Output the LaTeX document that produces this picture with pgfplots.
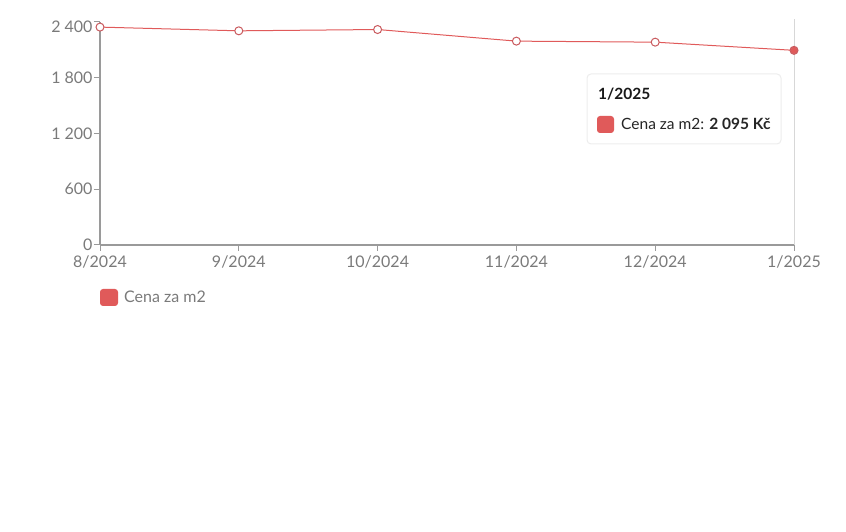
\documentclass[border=0pt]{standalone}
\usepackage{pgfplots}
\pgfplotsset{compat=1.18}
\usepackage{fontspec}
\setmainfont{Lato}
\definecolor{linered}{HTML}{E05A5A}
\definecolor{markred}{HTML}{C95A5E}
\definecolor{axisgray}{HTML}{9A9A9A}
\definecolor{textgray}{HTML}{7A7A7A}
\definecolor{boxgray}{HTML}{EDEDED}
\begin{document}
\begin{tikzpicture}[x=1pt,y=1pt]
\path[use as bounding box] (0,0) rectangle (846,532);
\begin{axis}[
  at={(100pt,287pt)}, anchor=south west,
  width=694pt, height=223pt, scale only axis,
  xmin=0, xmax=5, ymin=0, ymax=2400,
  clip=false,
  axis x line*=bottom, axis y line*=left,
  axis line style={axisgray, line width=1.2pt},
  xtick={0,1,2,3,4,5},
  xticklabels={8/2024,9/2024,10/2024,11/2024,12/2024,1/2025},
  ytick={0,600,1200,1800,2400},
  yticklabels={0,600,1 200,1 800,\raisebox{-5pt}[\height][0pt]{2 400}},
  tick align=outside, major tick length=6pt,
  tick style={axisgray, line width=1pt},
  ticklabel style={font=\fontsize{16}{16}\selectfont, text=textgray},
  xticklabel style={yshift=-1pt},
  yticklabel style={xshift=2pt},
]
% hover guide at the latest month
\draw[boxgray!80!gray, line width=1pt] (axis cs:5,0) -- (axis cs:5,2430);
\addplot[linered, line width=1pt, mark=*, mark size=4pt,
  mark options={fill=white, draw=markred, line width=1pt}]
  coordinates {(0,2345) (1,2305) (2,2319) (3,2194) (4,2183) (5,2095)};
\addplot[only marks, mark=*, mark size=3.5pt, mark options={fill=linered, draw=markred}]
  coordinates {(5,2095)};
\end{axis}
% tooltip
\draw[boxgray, fill=white, rounded corners=4pt, line width=1pt] (587,388) rectangle (781,458);
\node[anchor=base west, font=\fontsize{15.5}{15.5}\selectfont\bfseries, text=black!90, inner sep=0pt] at (598,432) {1/2025};
\fill[linered, rounded corners=3pt] (597,399) rectangle (614,416);
\node[anchor=base west, font=\fontsize{15.5}{15.5}\selectfont, text=black!85, inner sep=0pt] at (621,402)
  {Cena za m2: \textbf{2 095 Kč}};
% legend
\fill[linered, rounded corners=3pt] (100,226) rectangle (118,243);
\node[anchor=base west, font=\fontsize{16}{16}\selectfont, text=textgray, inner sep=0pt] at (124,229) {Cena za m2};
\end{tikzpicture}
\end{document}
